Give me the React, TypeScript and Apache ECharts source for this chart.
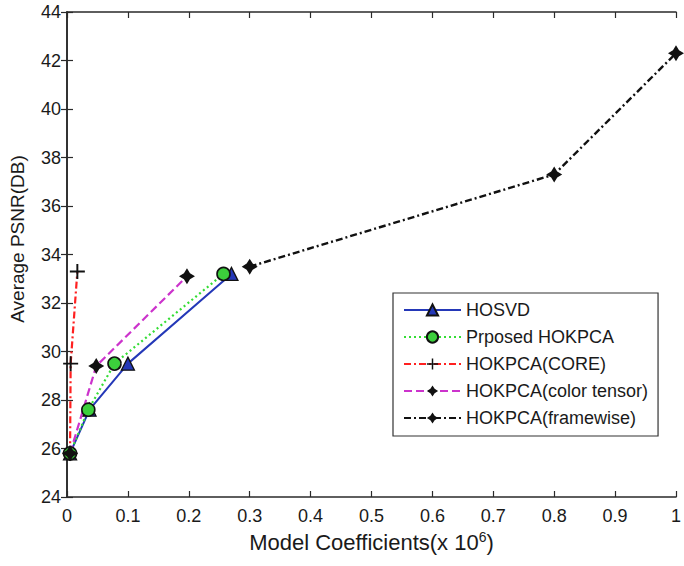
import React, { useEffect, useRef } from "react";
import * as echarts from "echarts";

const xTicks = [0, 0.1, 0.2, 0.3, 0.4, 0.5, 0.6, 0.7, 0.8, 0.9, 1];
const seriesNames = [
  "HOSVD",
  "Prposed HOKPCA",
  "HOKPCA(CORE)",
  "HOKPCA(color tensor)",
  "HOKPCA(framewise)",
];
const hosvdX = [0.005, 0.037, 0.1, 0.27];
const hosvdY = [25.8, 27.6, 29.5, 33.2];
const proposedX = [0.005, 0.035, 0.078, 0.257];
const proposedY = [25.8, 27.6, 29.5, 33.2];
const coreX = [0.005, 0.006, 0.017];
const coreY = [25.8, 29.5, 33.3];
const colorX = [0.005, 0.048, 0.197];
const colorY = [25.8, 29.4, 33.1];
const frameX = [0.3, 0.8, 1.0];
const frameY = [33.5, 37.3, 42.3];

const PLUS =
  "path://M-1.3,-10 L1.3,-10 L1.3,-1.3 L10,-1.3 L10,1.3 L1.3,1.3 L1.3,10 L-1.3,10 L-1.3,1.3 L-10,1.3 L-10,-1.3 L-1.3,-1.3 Z";
const STAR =
  "path://M0,-10 L3.8,-3.8 L10,0 L3.8,3.8 L0,10 L-3.8,3.8 L-10,0 L-3.8,-3.8 Z";

const zip = (xs: number[], ys: number[]) => xs.map((x, i) => [x, ys[i]]);

export default function App() {
  const ref = useRef<HTMLDivElement>(null);
  useEffect(() => {
    if (!ref.current) return;
    const chart = echarts.init(ref.current, null, { renderer: "svg" });
    const font = "Liberation Sans, Arial, sans-serif";
    const frame = { lineStyle: { color: "#2a2a2a", width: 1.6 } };
    const tick = { inside: true, length: 6, lineStyle: { color: "#2a2a2a", width: 1.2 } };
    chart.setOption({
      animation: false,
      backgroundColor: "#fff",
      grid: { left: 67, top: 12, right: 1, bottom: 69 },
      legend: {
        orient: "vertical",
        left: 393,
        top: 293,
        data: seriesNames,
        itemWidth: 57,
        itemHeight: 14,
        itemGap: 9,
        padding: [8, 10, 9, 10],
        borderColor: "#333",
        borderWidth: 1.2,
        backgroundColor: "#fff",
        textStyle: { fontFamily: font, fontSize: 18, color: "#1a1a1a" },
      },
      graphic: [
        {
          type: "text",
          x: 17,
          y: 239,
          rotation: Math.PI / 2,
          style: {
            text: "Average PSNR(DB)",
            fontFamily: font,
            fontSize: 19,
            fill: "#1a1a1a",
            align: "center",
            verticalAlign: "middle",
          },
        },
      ],
      xAxis: [
        {
          type: "value",
          min: 0,
          max: 1,
          interval: 0.1,
          position: "bottom",
          axisLine: frame,
          axisTick: tick,
          splitLine: { show: false },
          axisLabel: {
            margin: 10,
            fontFamily: font,
            fontSize: 18,
            color: "#1a1a1a",
            formatter: (v: number) => (v === 0 ? "0" : v === 1 ? "1" : v.toFixed(1)),
          },
          name: "Model Coefficients(x 10{sup|6})",
          nameLocation: "middle",
          nameGap: 32,
          nameTextStyle: {
            fontFamily: font,
            fontSize: 22,
            color: "#1a1a1a",
            rich: {
              sup: { fontFamily: font, fontSize: 14, color: "#1a1a1a", padding: [0, 0, 12, 0] },
            },
          },
        },
        {
          type: "value",
          min: 0,
          max: 1,
          interval: 0.1,
          position: "top",
          axisLine: frame,
          axisTick: tick,
          axisLabel: { show: false },
          splitLine: { show: false },
        },
      ],
      yAxis: [
        {
          type: "value",
          min: 24,
          max: 44,
          interval: 2,
          position: "left",
          axisLine: frame,
          axisTick: tick,
          splitLine: { show: false },
          axisLabel: { margin: 6, fontFamily: font, fontSize: 18, color: "#1a1a1a" },
        },
        {
          type: "value",
          min: 24,
          max: 44,
          interval: 2,
          position: "right",
          axisLine: frame,
          axisTick: tick,
          axisLabel: { show: false },
          splitLine: { show: false },
        },
      ],
      series: [
        {
          name: seriesNames[0],
          type: "line",
          data: zip(hosvdX, hosvdY),
          symbol: "triangle",
          symbolSize: 13,
          itemStyle: { color: "#2438b8", borderColor: "#111", borderWidth: 1.3 },
          lineStyle: { color: "#2438b8", width: 2 },
        },
        {
          name: seriesNames[1],
          type: "line",
          data: zip(proposedX, proposedY),
          symbol: "circle",
          symbolSize: 13,
          itemStyle: { color: "#3ccf3c", borderColor: "#111", borderWidth: 1.6 },
          lineStyle: { color: "#33dd33", width: 2.2, type: [2, 3] },
        },
        {
          name: seriesNames[2],
          type: "line",
          data: zip(coreX, coreY),
          symbol: PLUS,
          symbolSize: 15,
          itemStyle: { color: "#111" },
          lineStyle: { color: "#ff2020", width: 2.2, type: [7, 3, 2, 3] },
        },
        {
          name: seriesNames[3],
          type: "line",
          data: zip(colorX, colorY),
          symbol: STAR,
          symbolSize: 16,
          itemStyle: { color: "#111" },
          lineStyle: { color: "#cc33cc", width: 2.2, type: [8, 4] },
        },
        {
          name: seriesNames[4],
          type: "line",
          data: zip(frameX, frameY),
          symbol: STAR,
          symbolSize: 16,
          itemStyle: { color: "#111" },
          lineStyle: { color: "#111", width: 2.4, type: [7, 3, 2, 3] },
        },
      ],
    });
    return () => chart.dispose();
  }, []);
  return (
    <div
      ref={ref}
      style={{ position: "absolute", left: 0, top: 0, width: 684, height: 566, background: "#fff" }}
    />
  );
}
